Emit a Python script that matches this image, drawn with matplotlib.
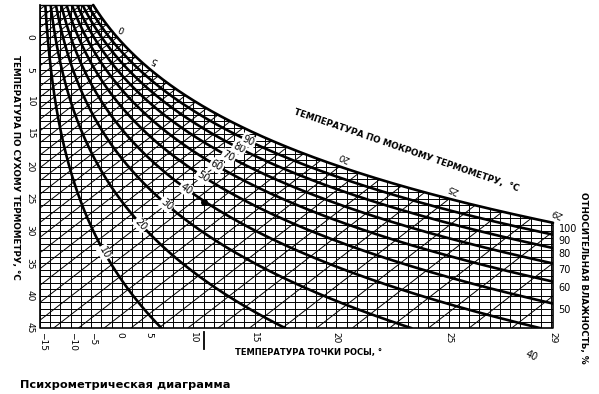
import numpy as np
import matplotlib
matplotlib.use('Agg')
import matplotlib.pyplot as plt
from matplotlib.patches import Polygon
from matplotlib.collections import LineCollection

plt.rcParams['font.family'] = ['DejaVu Sans']

# chart values
pressure = 1013.25            # hPa
t_min, t_max = -5, 45         # dry bulb range, degC
w_max = 25.1                  # mixing ratio at right edge, g/kg
dry_bulb_ticks = [0, 5, 10, 15, 20, 25, 30, 35, 40, 45]
rh_levels = [10, 20, 30, 40, 50, 60, 70, 80, 90, 100]
rh_inside_labels = [10, 20, 30, 40, 50, 60, 70, 80, 90]
rh_edge_labels = [100, 90, 80, 70, 60, 50]
wet_bulb_labels = [0, 5, 20, 25, 29]
dew_point_labels = ['\u221215', '\u221210', '\u22125', '0', '5', '10', '15', '20', '25', '29']
dew_point_w = [0.1, 1.6, 2.55, 3.9, 5.3, 7.5, 10.5, 14.5, 20.0, 25.1]
point_w, point_t = 8.0, 25.5
label_wet_bulb = 15           # RH labels sit along this wet bulb line
wb_slope = 2.45               # degC per g/kg along wet bulb lines


def sat_vp(t):
    return 6.112 * np.exp(17.62 * t / (243.12 + t))


def mixing_ratio(e):
    return 622.0 * e / (pressure - e)


def vp_from_w(w):
    return w * pressure / (622.0 + w)


def rh_curve_w(rh, t):
    return mixing_ratio(rh / 100.0 * sat_vp(t))


fig = plt.figure(figsize=(5.99, 3.94), dpi=100)
ax = fig.add_axes([40 / 599, 1 - 328 / 394, 513 / 599, 323 / 394])
ax.set_xlim(0, w_max)
ax.set_ylim(t_max, t_min)
for sp in ax.spines.values():
    sp.set_visible(False)

tt = np.linspace(t_min, t_max, 1001)
ws = mixing_ratio(sat_vp(tt))
t_edge = np.interp(w_max, ws, tt)

# chart area (under the saturation curve)
inside = ws <= w_max
verts = [(0, t_min)] + list(zip(ws[inside], tt[inside])) + [(w_max, t_edge), (w_max, t_max), (0, t_max)]
area = Polygon(verts, closed=True, fc='none', ec='none', transform=ax.transData)
ax.add_patch(area)

grid = []
for w in np.arange(0, w_max, 0.5):
    grid.append([(w, t_min), (w, t_max)])
for t in range(t_min, t_max + 1):
    grid.append([(0, t), (w_max, t)])
for tw in range(-12, 36):
    w0 = mixing_ratio(sat_vp(tw))
    grid.append([(w0, tw), (w0 - (t_max - tw) / wb_slope, t_max)])
lc = LineCollection(grid, colors='black', linewidths=0.7)
ax.add_collection(lc)
lc.set_clip_path(area)

# relative humidity curves
for rh in rh_levels[:-1]:
    line, = ax.plot(rh_curve_w(rh, tt), tt, color='black', lw=1.9)
    line.set_clip_path(area)

# borders
ax.plot(ws[inside].tolist() + [w_max], tt[inside].tolist() + [t_edge], color='black', lw=1.9,
        clip_on=False, solid_capstyle='round')
ax.plot([0, 0, w_max, w_max], [t_min, t_max, t_max, t_edge], color='black', lw=1.2, clip_on=False)
ax.plot([0, ws[0]], [t_min, t_min], color='black', lw=1.0, clip_on=False)

# example point
ax.plot(point_w, point_t, 'o', color='black', ms=4)
ax.plot([point_w, point_w], [t_max + 0.6, t_max + 3.3], color='black', lw=1.3, clip_on=False)


def screen_angle(p, q):
    a = ax.transData.transform(p)
    b = ax.transData.transform(q)
    return np.degrees(np.arctan2(b[1] - a[1], b[0] - a[0]))


# RH labels along a wet bulb line
tl = np.linspace(label_wet_bulb, t_max, 600)
wl = mixing_ratio(sat_vp(label_wet_bulb)) - (tl - label_wet_bulb) / wb_slope
rhl = 100 * vp_from_w(np.clip(wl, 0.01, None)) / sat_vp(tl)
for rh in rh_inside_labels:
    t = np.interp(-rh, -rhl, tl)
    w = rh_curve_w(rh, t)
    ang = screen_angle((w, t), (rh_curve_w(rh, t + 0.5), t + 0.5))
    ax.text(w, t, str(rh), fontsize=7, rotation=ang, ha='center', va='center',
            rotation_mode='anchor',
            bbox=dict(boxstyle='square,pad=0.12', fc='white', ec='none'), zorder=5)

# RH labels on the right edge
for rh in rh_edge_labels:
    t = np.interp(w_max, rh_curve_w(rh, tt), tt)
    ax.annotate(str(rh), (w_max, t), xytext=(4, -4.5), textcoords='offset points',
                fontsize=7, ha='left', va='center', annotation_clip=False)
t40 = t_max
ax.annotate('40', (rh_curve_w(40, t40), t40), xytext=(-6, -20), textcoords='offset points',
            fontsize=7, ha='center', va='center', rotation=-25, annotation_clip=False)

# wet bulb labels along saturation curve
for tw in wet_bulb_labels:
    w = min(mixing_ratio(sat_vp(tw)), w_max)
    t = min(tw, t_edge)
    ax.annotate(str(tw), (w, t), xytext=(3, 7), textcoords='offset points',
                fontsize=6.5, ha='center', va='center', rotation=155, annotation_clip=False)

# ticks
ax.set_yticks(dry_bulb_ticks)
ax.set_yticklabels([str(v) for v in dry_bulb_ticks], rotation=-90, ha='center', va='center',
                   fontsize=6.5)
ax.tick_params(axis='y', length=0, pad=7)
ax.set_xticks(dew_point_w)
ax.set_xticklabels(dew_point_labels, rotation=-90, fontsize=6.5)
ax.tick_params(axis='x', length=0, pad=3)

# axis titles
fig.text(15 / 599, 1 - 167 / 394, 'ТЕМПЕРАТУРА ПО СУХОМУ ТЕРМОМЕТРУ, \u00b0С', rotation=-90,
         ha='center', va='center', fontsize=6.3, fontweight='bold')
fig.text(583 / 599, 1 - 278 / 394, 'ОТНОСИТЕЛЬНАЯ ВЛАЖНОСТЬ, %', rotation=-90,
         ha='center', va='center', fontsize=6.3, fontweight='bold')
fig.text(309 / 599, 1 - 353 / 394, 'ТЕМПЕРАТУРА ТОЧКИ РОСЫ, \u00b0', ha='center', va='center',
         fontsize=6, fontweight='bold')
fig.text(406 / 599, 1 - 150 / 394, 'ТЕМПЕРАТУРА ПО МОКРОМУ ТЕРМОМЕТРУ,  \u00b0С', rotation=-19,
         ha='center', va='center', fontsize=6.3, fontweight='bold', rotation_mode='anchor')
fig.text(20 / 599, 1 - 385 / 394, 'Психрометрическая диаграмма', ha='left', va='center',
         fontsize=8.2, fontweight='bold')

fig.savefig('out.png', dpi=100)
